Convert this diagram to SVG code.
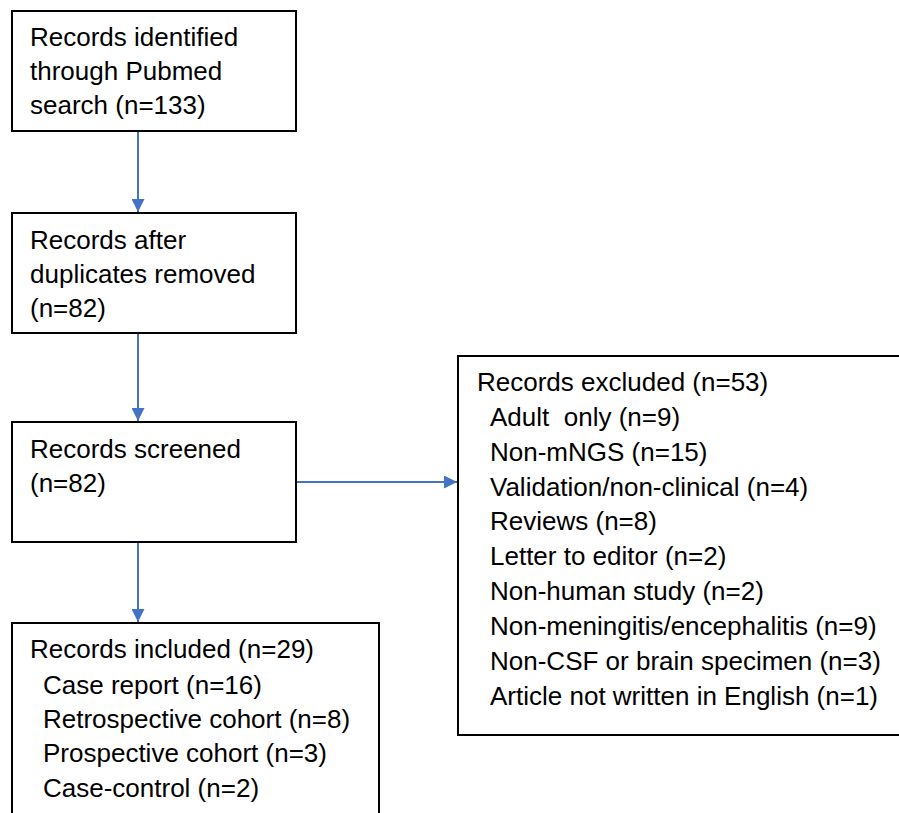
<svg xmlns="http://www.w3.org/2000/svg" width="899" height="813" viewBox="0 0 899 813">
<defs>
<style>
.box{fill:#fff;stroke:#000;stroke-width:2}
.t{font-family:"Liberation Sans",Arial,sans-serif;font-size:26px;fill:#000}
.c{stroke:#4472C4;stroke-width:2;fill:none}
</style>
<marker id="ah" markerWidth="13" markerHeight="13" viewBox="0 0 13 13" refX="13" refY="6.5" orient="auto" markerUnits="userSpaceOnUse">
<path d="M0,0 L13,6.5 L0,13 z" fill="#4472C4"/>
</marker>
</defs>
<rect width="899" height="813" fill="#fff"/>
<g id="connectors">
<line class="c" x1="138" y1="131" x2="138" y2="212" marker-end="url(#ah)"/>
<line class="c" x1="138" y1="333" x2="138" y2="421" marker-end="url(#ah)"/>
<line class="c" x1="138" y1="542" x2="138" y2="622" marker-end="url(#ah)"/>
<line class="c" x1="296" y1="482" x2="457" y2="482" marker-end="url(#ah)"/>
</g>
<g id="identified">
<rect class="box" x="12" y="11" width="284" height="120"/>
<text class="t" x="30" y="46">Records identified</text>
<text class="t" x="30" y="80">through Pubmed</text>
<text class="t" x="30" y="114">search (n=133)</text>
</g>
<g id="deduplicated">
<rect class="box" x="12" y="213" width="284" height="120"/>
<text class="t" x="30" y="249">Records after</text>
<text class="t" x="30" y="283">duplicates removed</text>
<text class="t" x="30" y="317">(n=82)</text>
</g>
<g id="screened">
<rect class="box" x="12" y="422" width="284" height="120"/>
<text class="t" x="30" y="458">Records screened</text>
<text class="t" x="30" y="492">(n=82)</text>
</g>
<g id="included">
<rect class="box" x="12" y="623" width="367" height="200"/>
<text class="t" x="30" y="658">Records included (n=29)</text>
<text class="t" x="43" y="694">Case report (n=16)</text>
<text class="t" x="43" y="728">Retrospective cohort (n=8)</text>
<text class="t" x="43" y="762">Prospective cohort (n=3)</text>
<text class="t" x="43" y="797">Case-control (n=2)</text>
</g>
<g id="excluded">
<rect class="box" x="458" y="356" width="445" height="379"/>
<text class="t" x="477" y="391">Records excluded (n=53)</text>
<text class="t" x="490" y="426" style="white-space:pre">Adult  only (n=9)</text>
<text class="t" x="490" y="461">Non-mNGS (n=15)</text>
<text class="t" x="490" y="496">Validation/non-clinical (n=4)</text>
<text class="t" x="490" y="530">Reviews (n=8)</text>
<text class="t" x="490" y="565">Letter to editor (n=2)</text>
<text class="t" x="490" y="600">Non-human study (n=2)</text>
<text class="t" x="490" y="635">Non-meningitis/encephalitis (n=9)</text>
<text class="t" x="490" y="670">Non-CSF or brain specimen (n=3)</text>
<text class="t" x="490" y="705">Article not written in English (n=1)</text>
</g>
</svg>
